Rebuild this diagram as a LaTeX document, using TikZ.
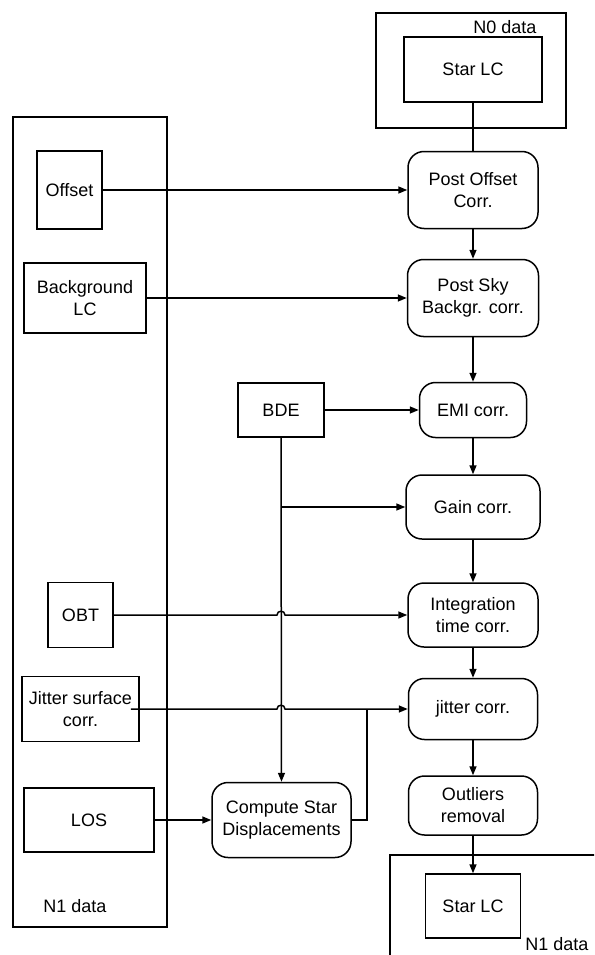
\documentclass[tikz,border=0pt]{standalone}
\usepackage{fontspec}
\setmainfont{Liberation Sans}
\usetikzlibrary{arrows.meta,calc}
\begin{document}
\begin{tikzpicture}[x=1pt,y=-1pt,
  every node/.style={font=\fontsize{18}{22}\selectfont, align=center, inner sep=0pt},
  box/.style={draw, line width=1.5pt, rectangle},
  rbox/.style={draw, line width=1.5pt, rectangle, rounded corners=16pt},
  con/.style={line width=1.5pt},
  arr/.style={line width=1.5pt, -{Triangle[length=9pt,width=7pt]}},
  lbl/.style={font=\fontsize{18}{22}\selectfont}
]
\useasboundingbox (0,0) rectangle (594,955);
\clip (0,0) rectangle (594,955);
\fill[white] (0,0) rectangle (594,955);

% container boxes
\node[box, minimum width=190pt, minimum height=115pt] (n0box) at (471,70.5) {};
\node[lbl] (n0lbl) at (505,27) {N0 data};
\node[box, minimum width=154pt, minimum height=810pt] (n1left) at (90,522) {};
\node[lbl] (n1lbl) at (75,906) {N1 data};
\node[box, minimum width=231pt, minimum height=126pt, anchor=north west] (n1right) at (389,854) {};
\node[lbl] (n1rlbl) at (557,944) {N1 data};

% inputs
\node[box, minimum width=138pt, minimum height=65pt] (star0) at (473,69.5) {Star LC};
\node[box, minimum width=65pt, minimum height=78pt] (offset) at (69.5,190) {Offset};
\node[box, minimum width=122pt, minimum height=70pt] (bglc) at (85,298) {Background\\LC};
\node[box, minimum width=86pt, minimum height=54pt] (bde) at (281,410) {BDE};
\node[box, minimum width=65pt, minimum height=65pt] (obt) at (80.5,615) {OBT};
\node[box, minimum width=117pt, minimum height=65pt] (jsc) at (80.5,709) {Jitter surface\\corr.};
\node[box, minimum width=130pt, minimum height=64pt] (los) at (89,820) {LOS};
\node[box, minimum width=95pt, minimum height=64pt] (star1) at (473,906) {Star LC};

% process steps
\node[rbox, minimum width=130pt, minimum height=77pt] (postoff) at (473,190) {Post Offset\\Corr.};
\node[rbox, minimum width=131pt, minimum height=77pt] (postsky) at (473,298) {Post Sky\\Backgr. corr.};
\node[rbox, minimum width=107pt, minimum height=55pt] (emi) at (473,410) {EMI corr.};
\node[rbox, minimum width=134pt, minimum height=64pt] (gain) at (473,507) {Gain corr.};
\node[rbox, minimum width=130pt, minimum height=64pt] (integ) at (473,615) {Integration\\time corr.};
\node[rbox, minimum width=129pt, minimum height=61pt] (jitter) at (473,709) {jitter corr.};
\node[rbox, minimum width=129pt, minimum height=59pt] (outl) at (473,805.5) {Outliers\\removal};
\node[rbox, minimum width=139pt, minimum height=75pt] (csd) at (281.5,820) {Compute Star\\Displacements};

% helper coordinates
\coordinate (gbr) at (bde.south |- gain.west);
\coordinate (h1) at (bde.south |- integ.west);
\coordinate (h2) at (bde.south |- jitter.west);
\coordinate (jn) at (367,709);
\coordinate (jstart) at ([xshift=-9pt]jsc.east);

% main chain
\draw[con] (star0.south) -- (postoff.north);
\draw[arr] (postoff.south) -- (postsky.north);
\draw[arr] (postsky.south) -- (emi.north);
\draw[arr] (emi.south) -- (gain.north);
\draw[arr] (gain.south) -- (integ.north);
\draw[arr] (integ.south) -- (jitter.north);
\draw[arr] (jitter.south) -- (outl.north);
\draw[arr] (outl.south) -- (star1.north);

% side inputs
\draw[arr] (offset.east) -- (postoff.west);
\draw[arr] (bglc.east) -- (postsky.west);
\draw[arr] (bde.east) -- (emi.west);
\draw[arr] (bde.south) -- (csd.north);
\draw[arr] (gbr) -- (gain.west);
\draw[arr] (obt.east) -- ([xshift=-4pt]h1)
  .. controls ([xshift=-4pt,yshift=5pt]h1) and ([xshift=4pt,yshift=5pt]h1) .. ([xshift=4pt]h1)
  -- (integ.west);
\draw[arr] (jstart) -- ([xshift=-4pt]h2)
  .. controls ([xshift=-4pt,yshift=5pt]h2) and ([xshift=4pt,yshift=5pt]h2) .. ([xshift=4pt]h2)
  -- (jitter.west);
\draw[arr] (los.east) -- (csd.west);
\draw[con] (csd.east) -| (jn);
\end{tikzpicture}
\end{document}
